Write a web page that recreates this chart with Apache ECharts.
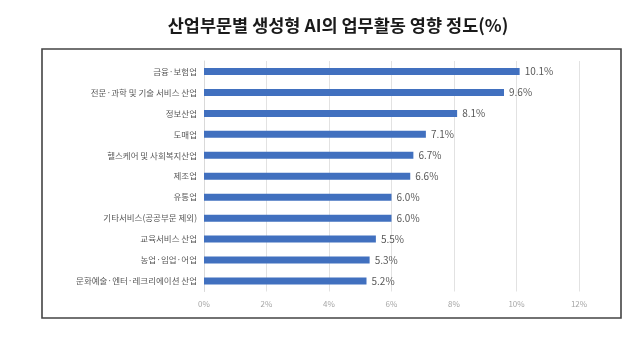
<!DOCTYPE html>
<html><head><meta charset="utf-8">
<script src="https://cdn.jsdelivr.net/npm/echarts@6/dist/echarts.min.js"></script>
<style>html,body{margin:0;padding:0;background:#fff}#c{width:640px;height:338px}</style>
</head><body><div id="c"></div>
<script>
var titleText = '산업부문별 생성형 AI의 업무활동 영향 정도(%)';
var categories = ['금융·보험업','전문·과학 및 기술 서비스 산업','정보산업','도매업','헬스케어 및 사회복지산업','제조업','유통업','기타서비스(공공부문 제외)','교육서비스 산업','농업·임업·어업','문화예술·엔터·레크리에이션 산업'];
var values = [10.1, 9.6, 8.1, 7.1, 6.7, 6.6, 6.0, 6.0, 5.5, 5.3, 5.2];
var xTicks = [0, 2, 4, 6, 8, 10, 12];

var FONT = '"Noto Sans CJK KR", "Noto Sans", sans-serif';
var chart = echarts.init(document.getElementById('c'), null, {renderer:'canvas'});
chart.setOption({
  animation: false,
  backgroundColor: '#fff',
  title: {
    text: titleText, left: 333, top: 12, textAlign: 'center',
    textStyle: {fontFamily: FONT, fontSize: 17.5, fontWeight: 'bold', color: '#1a1a1a'}
  },
  graphic: [{
    type: 'rect', shape: {x: 42, y: 49, width: 579, height: 269},
    style: {fill: 'none', stroke: '#444', lineWidth: 1.6}, z: 10
  }],
  grid: {left: 204, right: 61, top: 61, bottom: 46.5, containLabel: false},
  xAxis: {
    type: 'value', min: xTicks[0], max: xTicks[xTicks.length-1], interval: 2,
    axisLine: {show: false}, axisTick: {show: false},
    splitLine: {lineStyle: {color: '#e2e2e2', width: 1}},
    axisLabel: {formatter: '{value}%', color: '#a6a6a6', fontSize: 8, fontFamily: FONT, margin: 8}
  },
  yAxis: {
    type: 'category', data: categories, inverse: true,
    axisLine: {show: true, lineStyle: {color: '#d9d9d9'}}, axisTick: {show: false},
    axisLabel: {color: '#595959', fontSize: 8.5, fontFamily: FONT, margin: 7}
  },
  series: [{
    type: 'bar', data: values, barWidth: 7,
    itemStyle: {color: '#4170bf'},
    label: {show: true, position: 'right', distance: 5, formatter: function(p){return p.value.toFixed(1)+'%';},
      color: '#595959', fontSize: 10, fontFamily: FONT}
  }]
});
</script></body></html>
